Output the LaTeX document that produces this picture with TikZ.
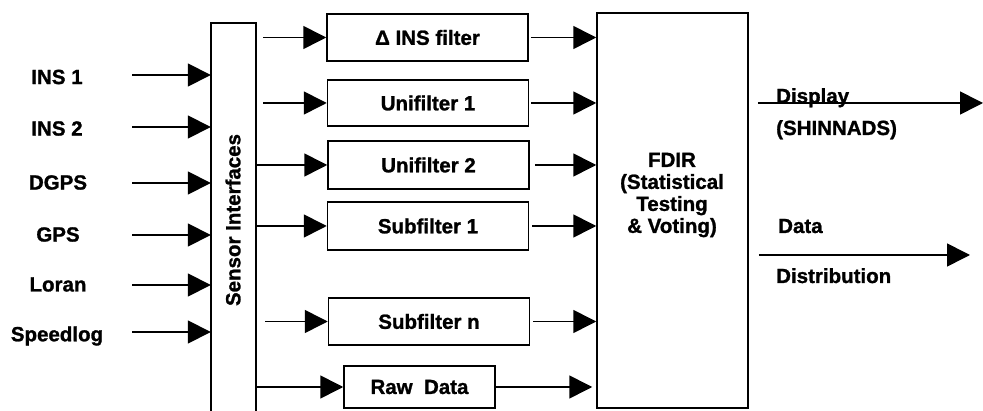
\documentclass[tikz,border=0pt]{standalone}
\usepackage{fontspec}
\setmainfont{Liberation Sans}[BoldFeatures={FakeBold=1.2}]
\usetikzlibrary{arrows.meta}

\begin{document}
\begin{tikzpicture}[x=1pt,y=1pt,yscale=-1,xscale=1,
	every node/.style={font=\fontsize{20.5}{22}\selectfont\bfseries},
	filterbox/.style={draw, line width=1.5pt, minimum width=201, minimum height=47, inner sep=0pt},
	sigarrow/.style={line width=1.6pt, -{Triangle[length=23pt,width=23pt]}}]
		\useasboundingbox (0,0) rectangle (983,411); %diagram 983 x 411
		
		%Shape: Open Rectangle [id:sensor]
		\node (sensor) [minimum width=45, minimum height=388, inner sep=0pt] at (233.5,217) {};
		\draw [line width=1.5pt] (sensor.south west) |- (sensor.north east) -- (sensor.south east) ;
		% Text Node
		\draw (233,220) node (sensortext) [rotate=90][inner sep=0.75pt] {Sensor Interfaces};
		
		%Shape: Rectangle [id:fdir]
		\node (fdir) [filterbox, minimum width=151, minimum height=395] at (672.5,210.5) {};
		% Text Node
		\draw (672,195) node (fdirtext) [inner sep=0.75pt][align=center] {FDIR\\(Statistical\\Testing\\\& Voting)};
		
		%Shape: Rectangle [id:filters]
		\node (delta) [filterbox] at (427.5,37.5) {Δ INS filter};
		\node (uni1) [filterbox, minimum height=46] at (428,103) {Unifilter 1};
		\node (uni2) [filterbox, minimum height=48] at (428.5,165) {Unifilter 2};
		\node (sub1) [filterbox, minimum height=48] at (428,226) {Subfilter 1};
		\node (subn) [filterbox] at (429,321.5) {Subfilter n};
		\node (raw) [filterbox, minimum width=151, minimum height=42] at (419.5,387) {Raw~~Data};
		
		% Text Node
		\draw (57,77) node (ins1) [inner sep=0.75pt] {INS 1};
		% Text Node
		\draw (57,128.5) node (ins2) [inner sep=0.75pt] {INS 2};
		% Text Node
		\draw (58,182.5) node (dgps) [inner sep=0.75pt] {DGPS};
		% Text Node
		\draw (58,234.5) node (gps) [inner sep=0.75pt] {GPS};
		% Text Node
		\draw (58,284.5) node (loran) [inner sep=0.75pt] {Loran};
		% Text Node
		\draw (57,336) node (speedlog) [inner sep=0.75pt] {Speedlog};
		
		%Straight Lines [id:inputs]
		\coordinate (ins1tail) at (132,75);
		\coordinate (ins2tail) at (132,127);
		\coordinate (dgpstail) at (132,183);
		\coordinate (gpstail) at (132,235);
		\coordinate (lorantail) at (132,285);
		\coordinate (speedlogtail) at (132,332);
		\draw [sigarrow] (ins1tail) -- (ins1tail -| sensor.west) ;
		\draw [sigarrow] (ins2tail) -- (ins2tail -| sensor.west) ;
		\draw [sigarrow] (dgpstail) -- (dgpstail -| sensor.west) ;
		\draw [sigarrow] (gpstail) -- (gpstail -| sensor.west) ;
		\draw [sigarrow] (lorantail) -- (lorantail -| sensor.west) ;
		\draw [sigarrow] (speedlogtail) -- (speedlogtail -| sensor.west) ;
		
		%Straight Lines [id:sensor-filters]
		\draw [sigarrow] ([xshift=7]sensor.east |- delta.west) -- (delta.west) ;
		\draw [sigarrow] ([xshift=7]sensor.east |- uni1.west) -- (uni1.west) ;
		\draw [sigarrow] (sensor.east |- uni2.west) -- (uni2.west) ;
		\draw [sigarrow] (sensor.east |- sub1.west) -- (sub1.west) ;
		\draw [sigarrow] ([xshift=9]sensor.east |- subn.west) -- (subn.west) ;
		\draw [sigarrow] (sensor.east |- raw.west) -- (raw.west) ;
		
		%Straight Lines [id:filters-fdir]
		\draw [sigarrow] ([xshift=2]delta.east) -- (delta.east -| fdir.west) ;
		\draw [sigarrow] ([xshift=2]uni1.east) -- (uni1.east -| fdir.west) ;
		\draw [sigarrow] ([xshift=5]uni2.east) -- (uni2.east -| fdir.west) ;
		\draw [sigarrow] ([xshift=3]sub1.east) -- (sub1.east -| fdir.west) ;
		\draw [sigarrow] ([xshift=3]subn.east) -- (subn.east -| fdir.west) ;
		\draw [sigarrow] (raw.east) -- ([xshift=-4]raw.east -| fdir.west) ;
		
		%Straight Lines [id:outputs]
		\coordinate (dispend) at (983,103);
		\coordinate (distend) at (970,255);
		\draw [sigarrow] ([xshift=9]fdir.east |- dispend) -- (dispend) ;
		\draw [sigarrow] ([xshift=10]fdir.east |- distend) -- (distend) ;
		
		% Text Node
		\draw (776,103) node (disp) [anchor=base west][inner sep=0pt] {Display};
		% Text Node
		\draw (776,135) node (shinnads) [anchor=base west][inner sep=0pt] {(SHINNADS)};
		% Text Node
		\draw (778,233) node (data) [anchor=base west][inner sep=0pt] {Data};
		% Text Node
		\draw (776,283) node (distrib) [anchor=base west][inner sep=0pt] {Distribution};
		
\end{tikzpicture}
\end{document}
